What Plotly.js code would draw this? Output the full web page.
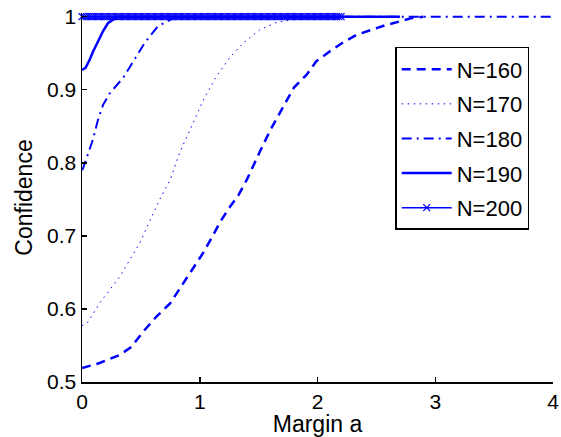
<!DOCTYPE html>
<html>
<head>
<meta charset="utf-8">
<script src="https://cdn.plot.ly/plotly-3.0.1.min.js"></script>
<style>html,body{margin:0;padding:0;background:#fff;}#chart{width:561px;height:437px;}</style>
</head>
<body>
<div id="chart"></div>
<script>
// Series labels
var seriesNames = ["N=160", "N=170", "N=180", "N=190", "N=200"];

// N=160 (dashed)
var marginA160 = [0, 0.15, 0.32, 0.42, 0.52, 0.63, 0.75, 0.83, 0.875, 0.96, 1.03, 1.1, 1.17, 1.24, 1.33, 1.4, 1.45, 1.51, 1.6, 1.68, 1.8, 1.91, 1.99, 2.1, 2.22, 2.33, 2.45, 2.57, 2.71, 2.8, 2.9];
var conf160 = [0.519, 0.526, 0.537, 0.548, 0.569, 0.589, 0.608, 0.628, 0.64, 0.66, 0.677, 0.697, 0.718, 0.736, 0.756, 0.777, 0.795, 0.815, 0.845, 0.868, 0.903, 0.921, 0.939, 0.952, 0.965, 0.975, 0.982, 0.988, 0.994, 0.998, 1.0];

// N=170 (dotted)
var marginA170 = [0, 0.05, 0.15, 0.32, 0.49, 0.66, 0.75, 0.83, 0.945, 1.03, 1.14, 1.26, 1.37, 1.51, 1.65, 1.8, 2.08, 2.5];
var conf170 = [0.577, 0.582, 0.608, 0.644, 0.69, 0.75, 0.777, 0.814, 0.855, 0.886, 0.918, 0.945, 0.964, 0.982, 0.992, 0.996, 0.999, 1.0];

// N=180 (dash-dot)
var marginA180 = [0, 0.008, 0.093, 0.136, 0.178, 0.235, 0.348, 0.447, 0.532, 0.645, 0.73, 0.8, 4];
var conf180 = [0.79, 0.792, 0.832, 0.859, 0.879, 0.895, 0.916, 0.941, 0.964, 0.987, 0.994, 1.0, 1.0];

// N=190 (solid)
var marginA190 = [0, 0.03, 0.065, 0.093, 0.136, 0.178, 0.22, 0.263, 0.3, 2.7];
var conf190 = [0.927, 0.93, 0.941, 0.952, 0.966, 0.98, 0.991, 0.996, 1.0, 1.0];

// N=200 (solid with x markers)
var marginA200 = [0, 0.02, 0.04, 0.06, 0.08, 0.1, 0.12, 0.14, 0.16, 0.18, 0.2, 0.22, 0.24, 0.26, 0.28, 0.3, 0.32, 0.34, 0.36, 0.38, 0.4, 0.42, 0.44, 0.46, 0.48, 0.5, 0.52, 0.54, 0.56, 0.58, 0.6, 0.62, 0.64, 0.66, 0.68, 0.7, 0.72, 0.74, 0.76, 0.78, 0.8, 0.82, 0.84, 0.86, 0.88, 0.9, 0.92, 0.94, 0.96, 0.98, 1.0, 1.02, 1.04, 1.06, 1.08, 1.1, 1.12, 1.14, 1.16, 1.18, 1.2, 1.22, 1.24, 1.26, 1.28, 1.3, 1.32, 1.34, 1.36, 1.38, 1.4, 1.42, 1.44, 1.46, 1.48, 1.5, 1.52, 1.54, 1.56, 1.58, 1.6, 1.62, 1.64, 1.66, 1.68, 1.7, 1.72, 1.74, 1.76, 1.78, 1.8, 1.82, 1.84, 1.86, 1.88, 1.9, 1.92, 1.94, 1.96, 1.98, 2.0, 2.02, 2.04, 2.06, 2.08, 2.1, 2.12, 2.14, 2.16, 2.18, 2.2];
var conf200 = [1, 1, 1, 1, 1, 1, 1, 1, 1, 1, 1, 1, 1, 1, 1, 1, 1, 1, 1, 1, 1, 1, 1, 1, 1, 1, 1, 1, 1, 1, 1, 1, 1, 1, 1, 1, 1, 1, 1, 1, 1, 1, 1, 1, 1, 1, 1, 1, 1, 1, 1, 1, 1, 1, 1, 1, 1, 1, 1, 1, 1, 1, 1, 1, 1, 1, 1, 1, 1, 1, 1, 1, 1, 1, 1, 1, 1, 1, 1, 1, 1, 1, 1, 1, 1, 1, 1, 1, 1, 1, 1, 1, 1, 1, 1, 1, 1, 1, 1, 1, 1, 1, 1, 1, 1, 1, 1, 1, 1, 1, 1];

// Axis ticks
var xTicks = [0, 1, 2, 3, 4];
var xTickLabels = ["0", "1", "2", "3", "4"];
var yTicks = [0.5, 0.6, 0.7, 0.8, 0.9, 1];
var yTickLabels = ["0.5", "0.6", "0.7", "0.8", "0.9", "1"];

var blue = "#0000ff";
var FONT = "Liberation Sans, Arial, Helvetica, sans-serif";

var traces = [
  {x: marginA160, y: conf160, name: seriesNames[0], mode: "lines", legendgroup: "a",
   line: {color: blue, width: 2.5, dash: "9px,6px"}},
  {x: marginA170, y: conf170, name: seriesNames[1], mode: "lines", legendgroup: "b",
   line: {color: blue, width: 1, dash: "1.5px,4.5px"}},
  {x: marginA180, y: conf180, name: seriesNames[2], mode: "lines", legendgroup: "c",
   line: {color: blue, width: 2, dash: "10px,5px,2px,5px"}},
  {x: marginA190, y: conf190, name: seriesNames[3], mode: "lines", legendgroup: "d",
   line: {color: blue, width: 2.5}},
  {x: marginA200, y: conf200, name: seriesNames[4], mode: "lines+markers", legendgroup: "e",
   cliponaxis: false,
   line: {color: blue, width: 1.5},
   marker: {symbol: "x-thin", size: 7, color: blue, line: {color: blue, width: 1.3}}}
];

var layout = {
  width: 561, height: 437,
  paper_bgcolor: "#fff", plot_bgcolor: "#fff",
  margin: {l: 82, r: 8, t: 13, b: 55},
  font: {family: FONT, size: 21, color: "#000"},
  showlegend: true,
  legend: {
    x: 0.665, y: 0.908, xanchor: "left", yanchor: "top",
    bordercolor: "#000", borderwidth: 1.5, bgcolor: "#fff",
    font: {family: FONT, size: 22, color: "#000"},
    tracegroupgap: 3, itemwidth: 50, traceorder: "grouped"
  },
  xaxis: {
    range: [0, 4], tickvals: xTicks, ticktext: xTickLabels,
    ticks: "inside", ticklen: 5, tickwidth: 1.5, tickcolor: "#000",
    showline: true, linecolor: "#000", linewidth: 1.5, mirror: false,
    showgrid: false, zeroline: false,
    tickfont: {family: FONT, size: 21, color: "#000"},
    title: {text: "Margin a", font: {family: FONT, size: 23, color: "#000"}, standoff: 2}
  },
  yaxis: {
    range: [0.5, 1.005], tickvals: yTicks, ticktext: yTickLabels,
    ticks: "inside", ticklen: 5, tickwidth: 1.5, tickcolor: "#000",
    showline: true, linecolor: "#000", linewidth: 1.5, mirror: false,
    showgrid: false, zeroline: false,
    tickfont: {family: FONT, size: 21, color: "#000"},
    title: {text: "Confidence", font: {family: FONT, size: 23, color: "#000"}, standoff: 8}
  }
};

Plotly.newPlot("chart", traces, layout, {displayModeBar: false, staticPlot: true});
</script>
</body>
</html>
